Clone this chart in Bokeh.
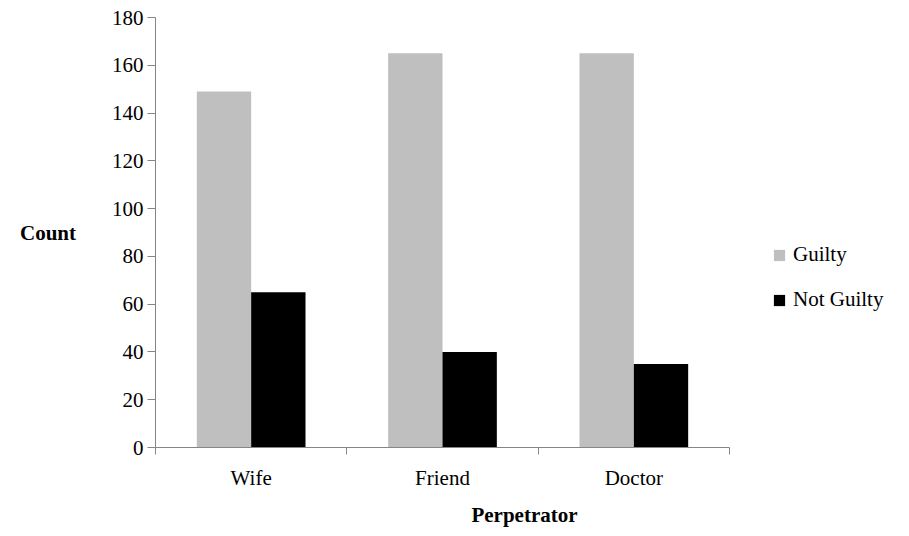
import numpy as np
from bokeh.plotting import figure
from bokeh.models import (Range1d, FixedTicker, Legend, LegendItem, ColumnDataSource)
from bokeh.embed import file_html
from bokeh.resources import INLINE

categories = ["Wife", "Friend", "Doctor"]
guilty = [149, 165, 165]
not_guilty = [65, 40, 35]
y_ticks = [0, 20, 40, 60, 80, 100, 120, 140, 160, 180]

FONT = "'Liberation Serif', 'Times New Roman', serif"
AXIS_COLOR = "#868686"

W, H = 893, 529
LEFT, TOP, BOTTOM = 155, 17, 82
AXIS_PX = 574  # pixel length of the category axis
n = len(categories)
x_end = n * (W - LEFT) / AXIS_PX

idx = np.arange(n) + 0.5
bar_w = 0.284
off = bar_w / 2

p = figure(width=W, height=H, output_backend="svg", toolbar_location=None,
           x_range=Range1d(0, x_end), y_range=Range1d(0, 180),
           min_border_left=LEFT, min_border_top=TOP, min_border_right=0, min_border_bottom=BOTTOM)
p.outline_line_color = None
p.xgrid.grid_line_color = None
p.ygrid.grid_line_color = None

src = ColumnDataSource(dict(xg=idx - off, xn=idx + off, g=guilty, n=not_guilty))
rg = p.vbar(x="xg", top="g", width=bar_w, bottom=0, source=src, fill_color="#BFBFBF", line_color=None)
rn = p.vbar(x="xn", top="n", width=bar_w, bottom=0, source=src, fill_color="#000000", line_color=None)

# x axis
xa = p.xaxis[0]
xa.bounds = (0, n)
xa.ticker = FixedTicker(ticks=list(idx), minor_ticks=list(range(n + 1)))
xa.major_label_overrides = {float(v): c for v, c in zip(idx, categories)}
xa.major_tick_line_color = None
xa.major_tick_out = 0
xa.major_tick_in = 0
xa.minor_tick_line_color = AXIS_COLOR
xa.minor_tick_out = 7
xa.minor_tick_in = 0
xa.axis_line_color = AXIS_COLOR
xa.major_label_text_font = FONT
xa.major_label_text_font_size = "21px"
xa.major_label_text_color = "black"
xa.major_label_standoff = 11
xa.axis_label = "Perpetrator"
xa.axis_label_text_font = FONT
xa.axis_label_text_font_size = "21px"
xa.axis_label_text_font_style = "bold"
xa.axis_label_text_color = "black"
xa.axis_label_standoff = 10

# y axis
ya = p.yaxis[0]
ya.ticker = FixedTicker(ticks=y_ticks)
ya.minor_tick_line_color = None
ya.major_tick_line_color = AXIS_COLOR
ya.major_tick_out = 8
ya.major_tick_in = 0
ya.axis_line_color = AXIS_COLOR
ya.major_label_text_font = FONT
ya.major_label_text_font_size = "21px"
ya.major_label_text_color = "black"
ya.major_label_standoff = 4
ya.axis_label = "Count"
ya.axis_label_orientation = "horizontal"
ya.axis_label_text_font = FONT
ya.axis_label_text_font_size = "21px"
ya.axis_label_text_font_style = "bold"
ya.axis_label_text_color = "black"
ya.axis_label_standoff = 33

legend = Legend(items=[LegendItem(label="Guilty", renderers=[rg]),
                       LegendItem(label="Not Guilty", renderers=[rn])],
                location=(617, 135), orientation="vertical",
                glyph_width=14, glyph_height=14, label_height=24, spacing=20,
                label_standoff=7, padding=0, margin=0,
                border_line_color=None, background_fill_alpha=0,
                label_text_font=FONT, label_text_font_size="21px", label_text_color="black")
p.add_layout(legend)

open("out.html", "w").write(file_html(p, INLINE))
